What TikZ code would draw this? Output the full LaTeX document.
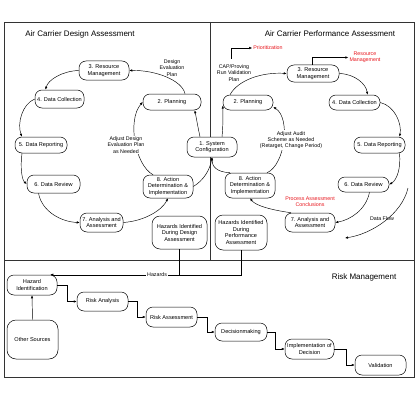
\documentclass[tikz,border=0pt]{standalone}
\usepackage{fontspec}
\setmainfont{Liberation Sans}
\definecolor{faaRed}{HTML}{E8141B}
\usetikzlibrary{arrows.meta}
\newcommand{\redtext}[1]{{\color{faaRed}#1}}

\begin{document}
\begin{tikzpicture}[x=1pt, y=-1pt,
  stage/.style={draw, line width=0.5pt, rounded corners=7pt, fill=white,
    align=center, inner sep=1pt, font=\fontsize{5.6}{6.5}\selectfont},
  hazbox/.style={stage, rounded corners=8pt},
  lbl/.style={align=center, inner sep=1pt, font=\fontsize{5.3}{6.3}\selectfont},
  title/.style={inner sep=1pt, font=\fontsize{8}{9}\selectfont},
  arr/.style={-{Latex[length=3pt,width=2.4pt]}, line width=0.45pt},
  frame/.style={line width=0.6pt, draw=black!80}
]
  \useasboundingbox (0,0) rectangle (420,420);
  \fill[white] (0,0) rectangle (420,420);

  % panels
  \draw[frame] (4,22) rectangle (414,377);
  \draw[frame] (210,22) -- (210,260);
  \draw[frame] (4,260) -- (414,260);
  \node[title] (tDes) at (80,34) {Air Carrier Design Assessment};
  \node[title] (tPerf) at (330,34) {Air Carrier Performance Assessment};
  \node[title] (tRisk) at (364,277) {Risk Management};

  % design assessment cycle
  \node[stage, minimum width=50pt, minimum height=20pt] (sys) at (212,147) {1. System\\Configuration};
  \node[stage, minimum width=58pt, minimum height=16pt] (dPlan) at (172,102) {2. Planning};
  \node[stage, minimum width=50pt, minimum height=19pt] (dRes) at (104,70.5) {3. Resource\\Management};
  \node[stage, minimum width=49pt, minimum height=18pt] (dColl) at (59.5,99) {4. Data Collection};
  \node[stage, minimum width=52pt, minimum height=16pt] (dRep) at (41,145) {5. Data Reporting};
  \node[stage, minimum width=53pt, minimum height=18pt] (dRev) at (53.5,184) {6. Data Review};
  \node[stage, minimum width=43pt, minimum height=19pt] (dAna) at (101.5,222.5) {7. Analysis and\\Assessment};
  \node[stage, minimum width=50pt, minimum height=23pt] (dAct) at (168,186.5) {8. Action\\Determination \&\\Implementation};
  \node[hazbox, minimum width=55pt, minimum height=33pt] (dHaz) at (179.5,232.5) {Hazards Identified\\During Design\\Assessment};

  \draw[arr] ([xshift=-12pt]sys.north) .. controls (198,128) and (196,116) .. (dPlan.-20);
  \draw[arr] ([xshift=13pt]dPlan.north) .. controls (182,80) and (155,70) .. (dRes.east);
  \draw[arr] (dRes.west) .. controls (62,71) and (48,80) .. ([xshift=-14pt]dColl.north);
  \draw[arr] (dColl.west) .. controls (22,104) and (17,124) .. ([xshift=-19pt]dRep.north);
  \draw[arr] ([xshift=-19pt]dRep.south) .. controls (20,168) and (22,180) .. (dRev.west);
  \draw[arr] ([xshift=-15pt]dRev.south) .. controls (42,212) and (62,222) .. (dAna.west);
  \draw[arr] (dAna.east) .. controls (145,221) and (162,210) .. (dAct.south);
  \draw[arr] (dAct.east) .. controls (203,181) and (210,170) .. (sys.south);
  \draw[arr] ([xshift=-15pt]dAct.north) .. controls (135,165) and (127,120) .. (dPlan.west);

  \node[lbl] (desPlan) at (172,68) {Design\\Evaluation\\Plan};
  \node[lbl, fill=white] (adjD) at (126,145) {Adjust Design\\Evaluation Plan\\as Needed};

  % performance assessment cycle
  \node[stage, minimum width=50pt, minimum height=15pt] (pPlan) at (248,102.5) {2. Planning};
  \node[stage, minimum width=52pt, minimum height=17pt] (pRes) at (313,73.5) {3. Resource\\Management};
  \node[stage, minimum width=51pt, minimum height=15pt] (pColl) at (354.5,102.5) {4. Data Collection};
  \node[stage, minimum width=51pt, minimum height=16pt] (pRep) at (379.5,145) {5. Data Reporting};
  \node[stage, minimum width=51pt, minimum height=15pt] (pRev) at (363.5,184.5) {6. Data Review};
  \node[stage, minimum width=50pt, minimum height=19pt] (pAna) at (310,222.5) {7. Analysis and\\Assessment};
  \node[stage, minimum width=50pt, minimum height=25pt] (pAct) at (250,185.5) {8. Action\\Determination \&\\Implementation};
  \node[hazbox, minimum width=52pt, minimum height=35pt] (pHaz) at (241,232.5) {Hazards Identified\\During\\Performance\\Assessment};

  \draw[arr] ([xshift=10pt]sys.north) .. controls (223,128) and (223,116) .. ([yshift=-3pt]pPlan.west);
  \draw[arr] ([xshift=-18pt]pPlan.north) .. controls (238,80) and (262,72) .. (pRes.west);
  \draw[arr] (pRes.east) .. controls (355,74) and (366,84) .. ([xshift=13pt]pColl.north);
  \draw[arr] (pColl.east) .. controls (395,106) and (402,124) .. ([xshift=20pt]pRep.north);
  \draw[arr] ([xshift=20pt]pRep.south) .. controls (401,168) and (397,180) .. (pRev.east);
  \draw[arr] ([xshift=6pt]pRev.south) .. controls (366,210) and (350,220) .. (pAna.east);
  \draw[arr] ([xshift=-19pt]pAna.north) .. controls (272,210) and (256,206) .. (pAct.south);
  \draw[arr] ([xshift=-20pt]pAct.north) .. controls (216,172) and (212,166) .. (sys.south);
  \draw[arr] ([xshift=17pt]pAct.north) .. controls (285,165) and (291,118) .. (pPlan.-10);

  \node[lbl] (cap) at (234,73) {CAP/Proving\\Run Validation\\Plan};
  \node[lbl, text=faaRed] (prio) at (268,48) {Prioritization};
  \node[lbl, text=faaRed] (resR) at (365,57.5) {Resource\\Management};
  \node[lbl, fill=white] (adjP) at (291,140) {Adjust Audit\\Scheme as Needed\\(Retarget, Change Period)};
  \node[lbl] (procR) at (310,202) {\redtext{Process Assessment}\\\redtext{Conclusions}};
  \node[lbl] (flowLbl) at (382,219) {Data Flow};
  \draw[arr] ([xshift=-3pt,yshift=5pt]cap.north) |- (prio.west);
  \draw[arr] ([xshift=-1pt]pRes.north) |- (resR.west);

  \coordinate (flowA) at (408,188);
  \coordinate (flowB) at (345,238);
  \draw[arr] (flowA) .. controls (402,214) and (372,234) .. (flowB);

  % risk management
  \node[stage, minimum width=50pt, minimum height=20pt] (hazId) at (32,285) {Hazard\\Identification};
  \node[hazbox, rounded corners=9pt, minimum width=51pt, minimum height=39pt] (other) at (32.5,339.5) {Other Sources};
  \node[stage, minimum width=51pt, minimum height=19pt] (rAna) at (102.5,301.5) {Risk Analysis};
  \node[stage, minimum width=51pt, minimum height=20pt] (rAss) at (171.5,317) {Risk Assessment};
  \node[stage, minimum width=52pt, minimum height=18pt] (dec) at (241,332) {Decisionmaking};
  \node[stage, minimum width=49pt, minimum height=20pt] (impl) at (309.5,349) {Implementation of\\Decision};
  \node[stage, minimum width=51pt, minimum height=20pt] (val) at (380.5,365) {Validation};

  \draw[line width=0.45pt] (dHaz.south) -- (dHaz.south |- hazId.north);
  \draw[arr] (pHaz.south) |- node[lbl, fill=white, pos=0.72] (hazLbl) {Hazards} ([xshift=-7pt]hazId.north east);
  \draw[arr] (other.north) -- (hazId.south);
  \draw[arr] (hazId.east) -- ++(10,0) |- (rAna.west);
  \draw[arr] (rAna.east) -- ++(9,0) |- (rAss.west);
  \draw[arr] (rAss.east) -- ++(10,0) |- (dec.west);
  \draw[arr] (dec.east) -- ++(8,0) |- (impl.west);
  \draw[arr] (impl.east) -- ++(12,0) |- (val.west);
\end{tikzpicture}
\end{document}
